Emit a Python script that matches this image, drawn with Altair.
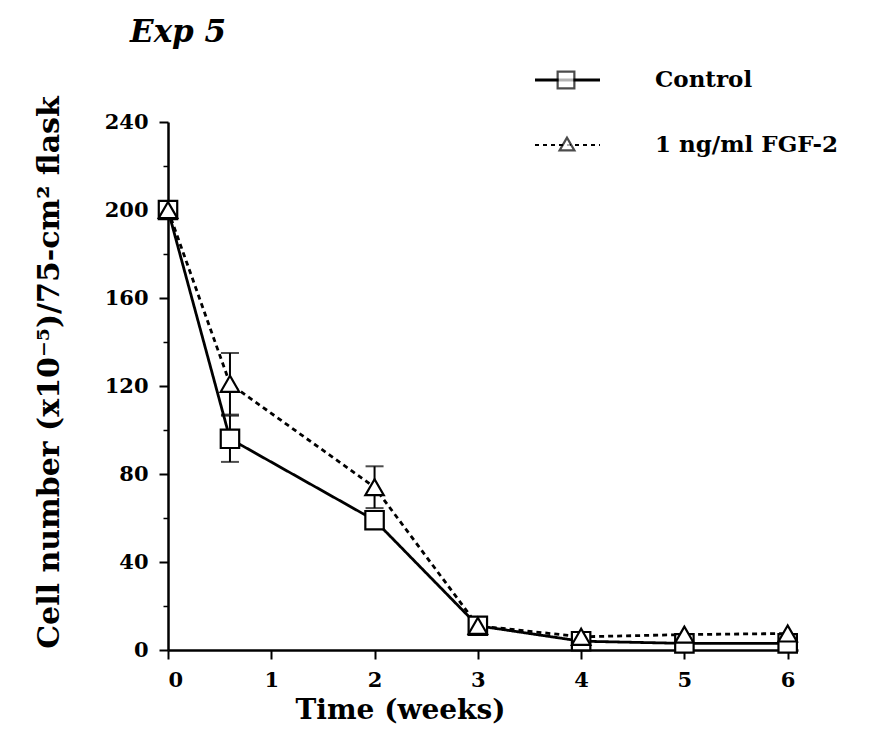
import altair as alt
import pandas as pd

# Time points (weeks) and cell counts for each treatment
weeks = [0, 0.6, 2, 3, 4, 5, 6]
control_mean = [200, 96, 59, 11, 4, 3, 3]
control_err = [0, 10.5, 3, 0, 0, 0, 0]
fgf_mean = [200, 121, 74, 11, 6, 7, 7.5]
fgf_err = [0, 14, 9.5, 0, 0, 0, 0]
series = ["Control", "1 ng/ml FGF-2"]
y_ticks = list(range(0, 241, 10))
x_ticks = [0, 1, 2, 3, 4, 5, 6]

FONT = "DejaVu Serif"

rows = []
for name, means, errs in [(series[0], control_mean, control_err), (series[1], fgf_mean, fgf_err)]:
    for w, m, e in zip(weeks, means, errs):
        rows.append({"week": w, "cells": m, "lo": m - e, "hi": m + e, "err": e, "series": name})
df = pd.DataFrame(rows)

xscale = alt.Scale(domain=[0, 6.1], nice=False)
yscale = alt.Scale(domain=[0, 240], nice=False)

x_axis = alt.Axis(values=x_ticks, title="Time (weeks)", grid=False, domainWidth=2.5,
                  tickWidth=2, tickSize=9, labelFont=FONT, labelFontSize=21,
                  labelFontWeight="bold", labelColor="black", labelPadding=10,
                  titleFont=FONT, titleFontSize=28, titleFontWeight="bold",
                  titleColor="black", titlePadding=6, titleX=232, titleAlign="center",
                  domainColor="black", tickColor="black", format="d")
# major ticks every 40 with labels, minor ticks every 10
y_axis = alt.Axis(values=y_ticks, title="Cell number (x10⁻⁵)/75-cm² flask", grid=False,
                  domainWidth=2.5,
                  tickWidth={"condition": {"test": "datum.value % 40 === 0", "value": 2}, "value": 1.5},
                  tickSize={"condition": {"test": "datum.value % 40 === 0", "value": 9}, "value": 5},
                  labelExpr="datum.value % 40 === 0 ? datum.label : ''",
                  labelFont=FONT, labelFontSize=21, labelFontWeight="bold",
                  labelColor="black", labelPadding=11, titleFont=FONT, titleFontSize=30,
                  titleFontWeight="bold", titleColor="black", titlePadding=40,
                  titleY=250, titleAlign="center",
                  domainColor="black", tickColor="black", format="d")

dash_scale = alt.Scale(domain=series, range=[[1, 0], [5, 4]])
shape_scale = alt.Scale(domain=series, range=["square", "triangle-up"])

base = alt.Chart(df)

lines = base.mark_line(color="black", strokeWidth=2.8).encode(
    x=alt.X("week:Q", scale=xscale, axis=x_axis),
    y=alt.Y("cells:Q", scale=yscale, axis=y_axis),
    strokeDash=alt.StrokeDash("series:N", scale=dash_scale, legend=None),
    detail="series:N",
)

bars_df = base.transform_filter("datum.err > 0")
err_rules = bars_df.mark_rule(color="black", strokeWidth=2).encode(
    x=alt.X("week:Q", scale=xscale),
    y=alt.Y("lo:Q", scale=yscale),
    y2="hi:Q",
)
caps_hi = bars_df.mark_tick(color="black", thickness=2, size=18, orient="horizontal").encode(
    x=alt.X("week:Q", scale=xscale),
    y=alt.Y("hi:Q", scale=yscale),
)
caps_lo = bars_df.mark_tick(color="black", thickness=2, size=18, orient="horizontal").encode(
    x=alt.X("week:Q", scale=xscale),
    y=alt.Y("lo:Q", scale=yscale),
)

points = base.mark_point(filled=True, fill="white", stroke="black", strokeWidth=2.2,
                         opacity=1, size=340).encode(
    x=alt.X("week:Q", scale=xscale),
    y=alt.Y("cells:Q", scale=yscale),
    shape=alt.Shape("series:N", scale=shape_scale, legend=None),
)

one = pd.DataFrame({"k": [0]})

# panel heading
heading = alt.Chart(one).mark_text(
    text="Exp 5", align="left", baseline="middle", font=FONT, fontSize=31,
    fontWeight="bold", fontStyle="italic", color="black").encode(
    x=alt.value(-38), y=alt.value(-89))

# hand-drawn key in the upper right
key_ctrl_line = alt.Chart(one).mark_rule(color="black", strokeWidth=2.8).encode(
    x=alt.value(367), x2=alt.value(432), y=alt.value(-42))
key_ctrl_pt = alt.Chart(one).mark_point(
    shape="square", filled=True, fill="white", stroke="black", strokeWidth=2.2, size=280).encode(
    x=alt.value(398), y=alt.value(-42))
key_fgf_line = alt.Chart(one).mark_rule(
    color="black", strokeWidth=2.2, strokeDash=[4, 4]).encode(
    x=alt.value(367), x2=alt.value(432), y=alt.value(23))
key_fgf_pt = alt.Chart(one).mark_point(
    shape="triangle-up", filled=True, fill="white", stroke="black", strokeWidth=2.2, size=220).encode(
    x=alt.value(399), y=alt.value(22))
key_text = alt.Chart(pd.DataFrame({"label": series, "yy": [-42, 23]})).mark_text(
    align="left", baseline="middle", font=FONT, fontSize=23, fontWeight="bold", color="black").encode(
    x=alt.value(487), y=alt.Y("yy:Q", scale=None), text="label:N")

chart = alt.layer(
    lines, err_rules, caps_hi, caps_lo, points, heading,
    key_ctrl_line, key_ctrl_pt, key_fgf_line, key_fgf_pt, key_text,
).properties(
    width=630, height=528,
    autosize=alt.AutoSizeParams(type="none"),
    padding={"left": 168, "top": 122, "right": 81, "bottom": 92},
    background="white",
).configure_view(stroke=None, clip=False)

chart.save("out.html", embed_options={"renderer": "svg", "actions": False})
